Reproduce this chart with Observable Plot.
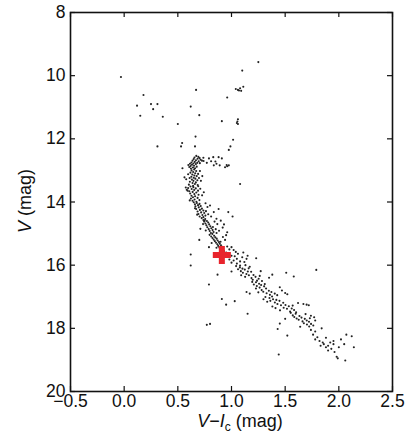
<!DOCTYPE html>
<html>
<head>
<meta charset="utf-8">
<script src="https://cdn.jsdelivr.net/npm/d3@7"></script>
<script src="https://cdn.jsdelivr.net/npm/@observablehq/plot@0.6"></script>
<style>
  html, body { margin: 0; padding: 0; background: #fff; }
  #chart { width: 419px; height: 443px; }
</style>
</head>
<body>
<div id="chart"></div>
<script>
// Tick values
const xTicks = [-0.5, 0.0, 0.5, 1.0, 1.5, 2.0, 2.5];
const yTicks = [8, 10, 12, 14, 16, 18, 20];

// Stars: [V-Ic, V]
const brightStars = [
  [-0.03,10.04],[1.25,9.57],[1.1,9.84],[0.18,10.61],[0.12,10.95],[0.25,10.9],[0.31,10.9],
  [0.27,11.06],[0.15,11.27],[0.36,11.3],[0.5,11.53],[0.31,12.24],[0.67,10.45],[0.62,10.98],
  [0.70,11.25],[0.91,11.44],[0.96,10.69],[1.04,10.42],[1.06,10.45],[1.08,10.40],[1.09,10.48],
  [1.11,10.35],[1.07,10.47],[1.06,11.38],[1.055,11.45],[1.06,11.53],[1.05,11.5],[1.015,12.03],
  [0.99,12.24],[0.975,12.35],[0.665,11.93],[0.66,12.24],[0.54,12.13],[0.53,12.24],[1.08,13.43]
];
const subgiantStars = [
  [0.74,12.7],[0.77,12.76],[0.81,12.71],[0.83,12.58],[0.88,12.58],[0.86,12.79],[0.85,12.72],
  [0.89,12.84],[0.835,12.84],[0.94,12.9],[0.96,12.87],[0.975,12.84],[0.955,12.83],[0.79,12.62],[0.91,12.62]
];
const turnoffStars = [
  [0.672,12.54],[0.691,12.57],[0.655,12.59],[0.703,12.61],[0.684,12.63],[0.648,12.64],[0.712,12.66],
  [0.669,12.68],[0.637,12.69],[0.694,12.71],[0.658,12.73],[0.626,12.75],[0.681,12.76],[0.645,12.78],
  [0.613,12.79],[0.668,12.8],[0.632,12.82],[0.598,12.83],[0.651,12.85],[0.619,12.86],[0.676,12.88],
  [0.607,12.89],[0.641,12.91],[0.66,12.93],[0.725,12.69],[0.738,12.6],[0.705,12.77],[0.622,12.94],
  [0.652,12.97],[0.628,13.0],[0.671,13.02],[0.643,13.05],[0.617,13.07],[0.662,13.09],[0.689,13.11],
  [0.635,13.13],[0.654,13.16],[0.676,13.18],[0.626,13.2],[0.648,13.23],[0.697,13.24],[0.663,13.26],
  [0.631,13.29],[0.682,13.31],[0.645,13.33],[0.612,13.36],[0.668,13.38],[0.637,13.4],[0.659,13.43],
  [0.603,13.45],[0.685,13.46],[0.642,13.49],[0.715,13.33],[0.728,13.18],[0.706,13.02],[0.578,13.28],
  [0.562,13.22],[0.543,12.93],[0.596,13.12],[0.61,13.24]
];
const upperMS = [
  [0.618,13.51],[0.645,13.53],[0.596,13.56],[0.667,13.57],[0.629,13.59],[0.583,13.61],[0.652,13.62],
  [0.688,13.64],[0.607,13.66],[0.638,13.68],[0.672,13.7],[0.615,13.73],[0.654,13.75],[0.693,13.77],
  [0.627,13.8],[0.661,13.82],[0.641,13.85],[0.684,13.87],[0.622,13.89],[0.656,13.92],[0.701,13.94],
  [0.637,13.96],[0.673,13.99],[0.574,13.54],[0.591,13.64],[0.726,13.79],[0.709,13.58],[0.742,13.69],
  [0.611,13.95],[0.69,13.5],
  [0.648,14.01],[0.677,14.03],[0.702,14.06],[0.659,14.07],[0.688,14.1],[0.713,14.13],[0.664,14.14],
  [0.695,14.17],[0.724,14.21],[0.671,14.22],[0.706,14.25],[0.738,14.27],[0.684,14.3],[0.717,14.33],
  [0.746,14.35],[0.692,14.38],[0.729,14.41],[0.757,14.43],[0.703,14.46],[0.738,14.48],[0.762,14.29],
  [0.776,14.16],[0.80,14.11],[0.835,14.32],[0.88,14.22],[0.81,14.46],[0.86,14.53],[0.783,14.39],
  [0.97,14.32],[1.01,14.46],[0.758,14.04],[0.66,14.2],[0.68,14.4],
  [0.722,14.51],[0.755,14.54],[0.738,14.57],[0.771,14.6],[0.745,14.62],[0.783,14.65],[0.757,14.68],
  [0.792,14.71],[0.766,14.74],[0.803,14.77],[0.775,14.8],[0.812,14.83],[0.788,14.86],[0.824,14.89],
  [0.797,14.92],[0.833,14.95],[0.808,14.98],[0.90,14.59],[0.75,14.59],[0.842,14.62],[0.868,14.7],
  [0.93,14.71],[0.827,14.79],[0.853,14.86],[0.884,14.91],[0.96,14.96],[0.71,14.85],[0.861,14.98],
  [0.918,14.81],[0.735,14.7],[0.76,14.9]
];
const middleMS = [
  [0.822,15.01],[0.796,15.04],[0.838,15.07],[0.811,15.09],[0.849,15.12],[0.823,15.14],[0.862,15.16],
  [0.834,15.19],[0.871,15.22],[0.845,15.24],[0.883,15.27],[0.856,15.29],[0.891,15.32],[0.868,15.34],
  [0.902,15.37],[0.876,15.39],[0.913,15.42],[0.887,15.44],[0.921,15.47],[0.70,15.2],[0.92,15.11],
  [0.79,15.43],[0.94,15.2],[0.898,15.26],[0.95,15.05],[0.815,15.3],[0.86,15.45],
  [0.96,15.41],[1.0,15.43],[0.98,15.5],[1.02,15.52],[0.93,15.55],[0.95,15.6],[1.06,15.64],[0.97,15.65],
  [1.0,15.7],[1.03,15.72],[1.10,15.75],[1.14,15.8],[1.23,15.78],[1.05,15.8],[0.98,15.82],[1.02,15.85],
  [1.08,15.88],[1.12,15.9],[1.0,15.92],[1.05,15.95],[1.08,16.01],[1.13,16.0],[1.15,15.7],[1.17,16.05],
  [0.62,15.66],[0.62,16.01],[1.11,15.6],[1.04,15.58],
  [1.043,16.03],[1.078,16.07],[1.102,16.11],[1.061,16.13],[1.124,16.14],[1.087,16.19],[1.152,16.2],
  [1.106,16.24],[1.183,16.21],[1.139,16.28],[1.205,16.31],[1.162,16.32],[1.127,16.37],[1.224,16.37],
  [1.186,16.41],[1.253,16.43],[1.198,16.46],[1.238,16.49],[1.272,16.19],[1.263,16.34],[1.35,16.4],
  [1.38,16.3],[1.51,16.24],[1.58,16.36],[1.79,16.15],[0.87,16.3],[1.284,16.5],[1.00,16.2],[1.09,16.32],[1.16,16.1]
];
const lowerMS = [
  [1.193,16.53],[1.228,16.54],[1.257,16.59],[1.208,16.61],[1.276,16.63],[1.236,16.66],[1.304,16.67],
  [1.262,16.71],[1.228,16.74],[1.322,16.74],[1.281,16.79],[1.348,16.81],[1.296,16.84],[1.372,16.85],
  [1.327,16.89],[1.403,16.9],[1.358,16.94],[1.426,16.95],[1.378,16.99],[1.47,16.8],[1.5,16.88],
  [1.45,16.7],[1.17,16.9],[1.14,16.85],[0.79,16.61],[1.52,16.92],[1.31,16.6],[1.25,16.86],
  [1.316,17.01],[1.354,17.04],[1.387,17.08],[1.418,17.1],[1.362,17.13],[1.447,17.13],[1.404,17.18],
  [1.482,17.19],[1.428,17.23],[1.503,17.26],[1.461,17.27],[1.381,17.31],[1.534,17.3],[1.486,17.35],
  [1.561,17.37],[1.517,17.38],[1.452,17.43],[1.583,17.42],[1.546,17.47],[1.602,17.49],[1.62,17.2],
  [1.67,17.23],[1.7,17.25],[1.72,17.27],[0.91,17.07],[0.95,17.25],[1.03,17.14],[1.15,17.54],
  [1.333,17.16],[1.298,17.08],[1.41,17.36],[1.57,17.28],
  [1.552,17.51],[1.598,17.54],[1.571,17.59],[1.633,17.61],[1.585,17.64],[1.652,17.66],[1.607,17.69],
  [1.683,17.7],[1.626,17.73],[1.701,17.75],[1.662,17.78],[1.722,17.79],[1.674,17.84],[1.741,17.86],
  [1.703,17.88],[1.762,17.91],[1.724,17.94],[1.74,17.6],[1.77,17.65],[1.73,17.68],[1.78,17.75],
  [1.5,17.7],[1.45,17.85],[0.77,17.89],[0.80,17.86],[1.43,18.02],[1.64,17.95],[1.69,17.55],
  [1.74,18.05],[1.78,18.1],[1.76,18.2],[1.84,18.0],[1.8,18.28],[1.78,18.35],[1.82,18.4],[1.85,18.45],
  [1.88,18.3],[1.86,18.5],[1.9,18.55],[1.88,18.6],[1.92,18.45],[1.95,18.4],[1.93,18.65],[1.96,18.75],
  [1.98,18.9],[2.0,18.6],[2.02,18.35],[2.05,18.5],[2.07,18.2],[2.12,18.25],[2.14,18.6],[2.06,19.02],
  [1.99,18.95],[1.52,18.23],[1.44,18.83],[1.9,18.7],[1.95,18.5],[1.83,18.55]
];
// Highlighted target
const targetStar = [[0.91, 15.68]];

const stars = [...brightStars, ...subgiantStars, ...turnoffStars, ...upperMS, ...middleMS, ...lowerMS];

const W = 419, H = 443;
const mL = 70, mR = 27, mT = 12, mB = 52;
const frameW = W - mL - mR, frameH = H - mT - mB;
const tickLen = 5;
const fmt1 = d3.format(".1f");

const plot = Plot.plot({
  width: W,
  height: H,
  marginLeft: mL,
  marginRight: mR,
  marginTop: mT,
  marginBottom: mB,
  style: {fontFamily: "'Liberation Sans', Arial, Helvetica, sans-serif", fontSize: "17.5px", background: "#fff", color: "#111"},
  x: {domain: [-0.5, 2.5], ticks: xTicks, tickSize: 0, tickPadding: 3, tickFormat: d => fmt1(d), label: null},
  y: {domain: [8, 20], reverse: true, ticks: yTicks, tickSize: 0, tickPadding: 5, tickFormat: d => String(d), label: null},
  marks: [
    Plot.dot(stars, {x: d => d[0], y: d => d[1], r: 1.05, fill: "#222", stroke: "none"}),
    Plot.dot(targetStar, {x: d => d[0], y: d => d[1], symbol: "cross", r: 7.6, fill: "#e8242c", stroke: "none"}),
    Plot.ruleX(xTicks, {x: d => d, insetTop: frameH - tickLen, stroke: "#111", strokeWidth: 1.2}),
    Plot.ruleX(xTicks, {x: d => d, insetBottom: frameH - tickLen, stroke: "#111", strokeWidth: 1.2}),
    Plot.ruleY(yTicks, {y: d => d, insetRight: frameW - tickLen, stroke: "#111", strokeWidth: 1.2}),
    Plot.ruleY(yTicks, {y: d => d, insetLeft: frameW - tickLen, stroke: "#111", strokeWidth: 1.2}),
    Plot.frame({stroke: "#111", strokeWidth: 1.6})
  ]
});

document.getElementById("chart").appendChild(plot);

// Axis titles (real text)
const svg = d3.select(plot);
const xt = svg.append("text")
  .attr("x", 240).attr("y", 427)
  .attr("text-anchor", "middle")
  .attr("fill", "#111")
  .style("font-size", "18px");
xt.append("tspan").attr("font-style", "italic").text("V");
xt.append("tspan").text("\u2212");
xt.append("tspan").attr("font-style", "italic").text("I");
xt.append("tspan").attr("font-size", "12px").attr("dy", "4").text("c");
xt.append("tspan").attr("dy", "-4").text(" (mag)");

const yt = svg.append("text")
  .attr("transform", "translate(31,201) rotate(-90)")
  .attr("text-anchor", "middle")
  .attr("fill", "#111")
  .style("font-size", "18px");
yt.append("tspan").attr("font-style", "italic").text("V");
yt.append("tspan").text(" (mag)");
</script>
</body>
</html>
